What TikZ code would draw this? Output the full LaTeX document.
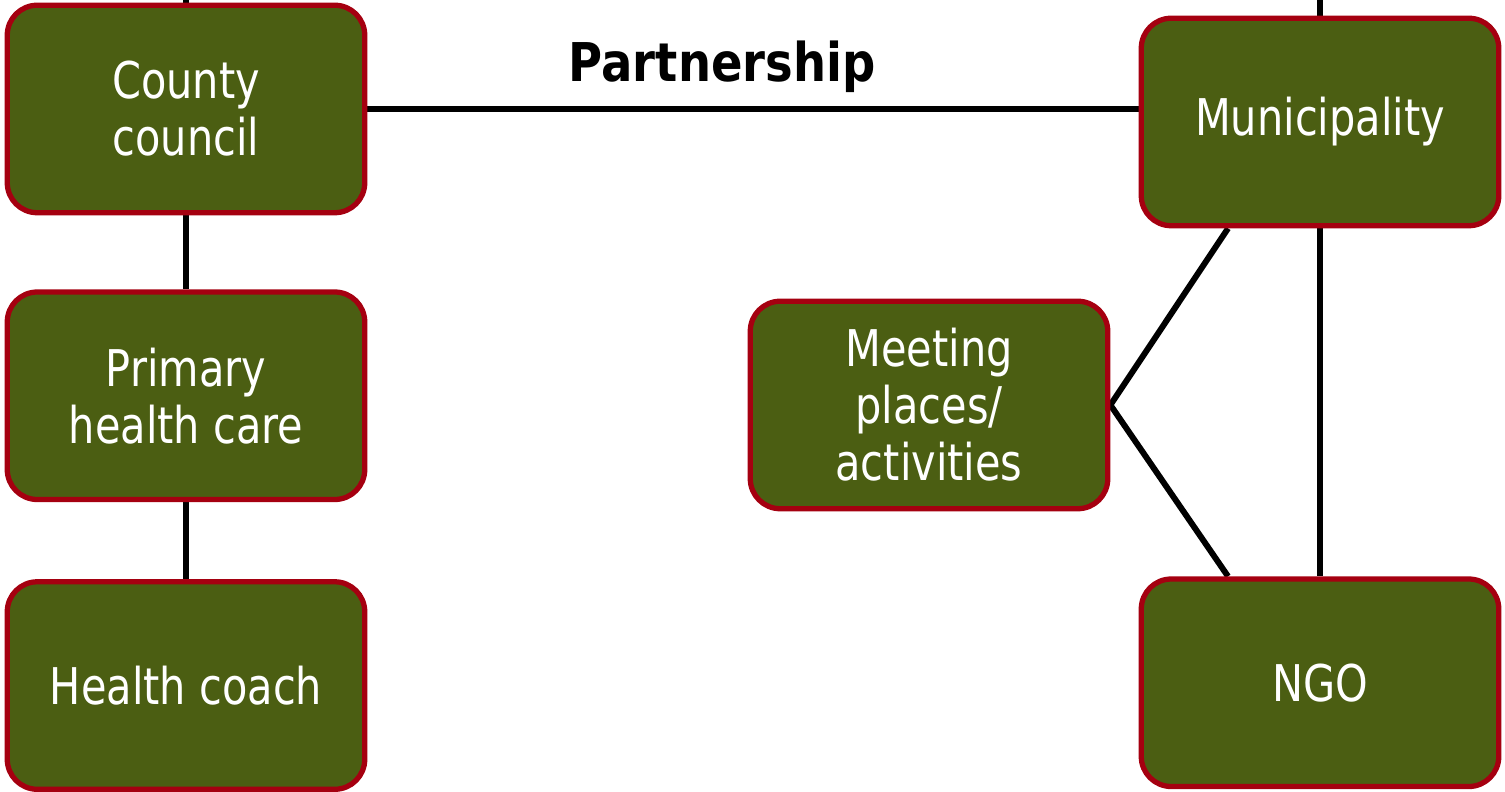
\documentclass[tikz,border=0pt]{standalone}
\usepackage{fontspec}
\setmainfont{DejaVu Sans}[FakeStretch=0.82,BoldFeatures={FakeStretch=0.87}]
\usetikzlibrary{positioning,backgrounds,calc}
\definecolor{boxgreen}{RGB}{75,94,18}
\definecolor{boxred}{RGB}{165,0,16}
\newcommand{\bw}{3.575}
\newcommand{\bh}{2.075}

\begin{document}
\begin{tikzpicture}[
  mbox/.style={draw=boxred,fill=boxgreen,line width=1.5pt,rounded corners=0.3cm,
    minimum width=\bw cm,minimum height=\bh cm,align=center,text=white,
    inner sep=2pt,font=\fontsize{14.4}{16.2}\selectfont},
  mline/.style={line width=1.7pt,black}]
  \useasboundingbox (0,0) rectangle (15.05,7.92);
  \coordinate (topedge) at (0,7.92);

  \node[mbox] (county) at (1.86,6.83) {County\\council};
  \node[mbox,below=0.74cm of county] (primary) {Primary\\health care};
  \node[mbox,below=0.77cm of primary] (coach) {Health coach};
  \node[mbox] (muni) at (13.20,6.70) {Municipality};
  \node[mbox,below=3.48cm of muni] (ngo) {NGO};
  \node[mbox] (meet) at (9.29,3.87) {Meeting\\places/\\activities};

  \begin{scope}[on background layer]
    \draw[mline] (county.north) -- (county.north |- topedge);
    \draw[mline] (muni.north) -- (muni.north |- topedge);
    \draw[mline] (county) -- (primary);
    \draw[mline] (primary) -- (coach);
    \draw[mline] (county.east) -- (county.east -| muni.west);
    \draw[mline] (muni) -- (ngo);
    \draw[mline] (meet.east) -- ($(muni.south)+(-0.92,0)$);
    \draw[mline] (meet.east) -- ($(ngo.north)+(-0.92,0)$);
  \end{scope}

  \node[font=\fontsize{15.2}{17}\selectfont\bfseries] (partner)
    at ($(county.east)!0.46!(county.east -| muni.west)+(0,0.42)$) {Partnership};
\end{tikzpicture}
\end{document}
